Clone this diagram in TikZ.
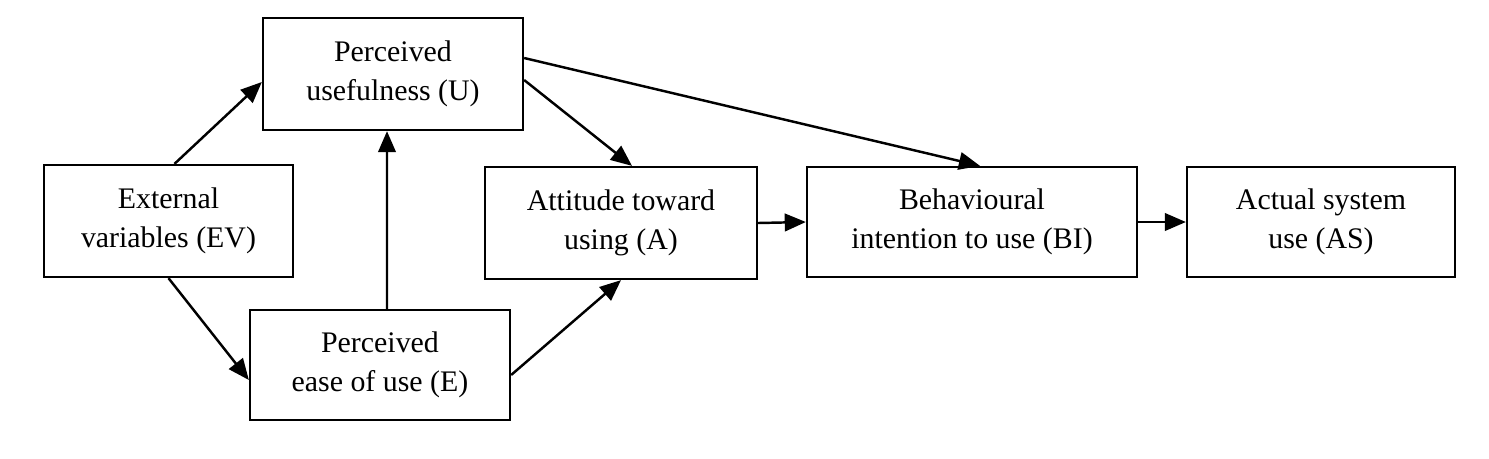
\documentclass[tikz,border=0pt]{standalone}
\usepackage{fontspec}
\setmainfont{Liberation Serif}
\usetikzlibrary{arrows.meta}
\begin{document}
\begin{tikzpicture}[x=0.02cm,y=-0.02cm,
  box/.style={draw,line width=1.3pt,inner sep=0pt,align=center,font=\fontsize{17}{22}\selectfont},
  arr/.style={line width=1.4pt,-{Triangle[length=12pt,width=10pt]}}]
\useasboundingbox (0,0) rectangle (1489,458);
\node[box,minimum width=249*0.02cm,minimum height=112*0.02cm] (EV) at (168.5,221) {External\\variables (EV)};
\node[box,minimum width=260*0.02cm,minimum height=112*0.02cm] (U) at (393,74) {Perceived\\usefulness (U)};
\node[box,minimum width=260*0.02cm,minimum height=110*0.02cm] (E) at (380,365) {Perceived\\ease of use (E)};
\node[box,minimum width=272*0.02cm,minimum height=112*0.02cm] (A) at (621,223) {Attitude toward\\using (A)};
\node[box,minimum width=330*0.02cm,minimum height=110*0.02cm] (BI) at (972,222) {Behavioural\\intention to use (BI)};
\node[box,minimum width=268*0.02cm,minimum height=110*0.02cm] (AS) at (1321,222) {Actual system\\use (AS)};
\draw[arr] ([xshift=0.12cm]EV.north) -- ([yshift=-0.16cm]U.west);
\draw[arr] (EV.south) -- ([yshift=-0.3cm]E.west);
\draw[arr] ([xshift=0.14cm]E.north) -- ([xshift=-0.12cm]U.south);
\draw[arr] ([yshift=-0.12cm]U.east) -- ([xshift=0.22cm]A.north);
\draw[arr] ([yshift=-0.2cm]E.east) -- (A.south);
\draw[arr] ([yshift=0.32cm]U.east) -- ([xshift=0.16cm]BI.north);
\draw[arr] (A.east) -- (BI.west);
\draw[arr] (BI.east) -- (AS.west);
\end{tikzpicture}
\end{document}
